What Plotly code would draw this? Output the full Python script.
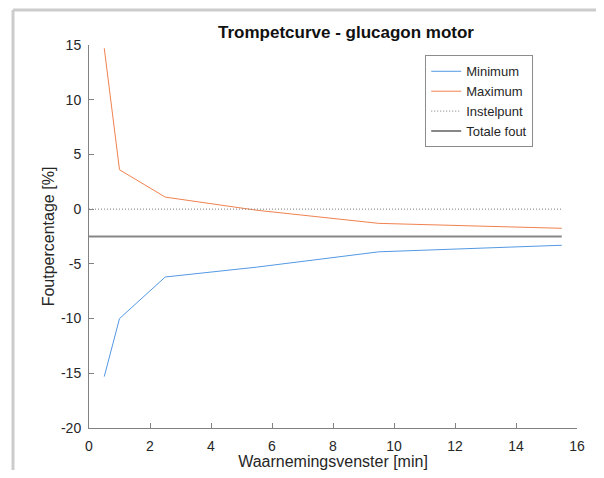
import plotly.graph_objects as go

# observation windows [min] and error percentages
window_min = [0.5, 1, 2.5, 5.5, 9.5, 15.5]
err_minimum = [-15.3, -10.0, -6.2, -5.3, -3.9, -3.3]
err_maximum = [14.7, 3.6, 1.1, -0.1, -1.3, -1.75]

ref_x = [0, 15.5]
setpoint = [0, 0]
total_error = [-2.5, -2.5]

x_ticks = [0, 2, 4, 6, 8, 10, 12, 14, 16]
y_ticks = [-20, -15, -10, -5, 0, 5, 10, 15]

_FONT = 'Liberation Sans, Arial, sans-serif'
_AX_COLOR = '#828282'
_TXT_COLOR = '#262626'
_FRAME = {'color': '#cccccc', 'width': 3}

# the page body has an 8px margin: keep the figure small enough to avoid scrollbars
_W, _H = 588, 462
_MARGIN = dict(l=81, r=19, t=37, b=42)

fig = go.Figure()
fig.add_trace(go.Scatter(
    x=window_min, y=err_minimum, mode='lines',
    line={'color': '#5499e3', 'width': 1}, name='Minimum',
))
fig.add_trace(go.Scatter(
    x=window_min, y=err_maximum, mode='lines',
    line={'color': '#f0824f', 'width': 1}, name='Maximum',
))
fig.add_trace(go.Scatter(
    x=ref_x, y=setpoint, mode='lines',
    line={'color': '#7a7a7a', 'width': 1, 'dash': '1px,2px'}, name='Instelpunt',
))
fig.add_trace(go.Scatter(
    x=ref_x, y=total_error, mode='lines',
    line={'color': '#878787', 'width': 2}, name='Totale fout',
))

axis_common = dict(
    showgrid=False, zeroline=False, showline=True,
    linecolor=_AX_COLOR, linewidth=1,
    ticks='inside', ticklen=5, tickcolor=_AX_COLOR,
    tickfont={'size': 14, 'color': _TXT_COLOR, 'family': _FONT},
    mirror=False, automargin=False,
)

fig.update_layout(
    width=_W, height=_H,
    paper_bgcolor='white', plot_bgcolor='white',
    font={'family': _FONT, 'color': _TXT_COLOR},
    margin=_MARGIN,
    title=dict(
        text='<b>Trompetcurve - glucagon motor</b>',
        x=(346 - 8) / _W, xanchor='center', y=1 - (32 - 8) / _H, yanchor='middle',
        font={'size': 17, 'color': '#111111', 'family': _FONT},
    ),
    xaxis=dict(
        axis_common, range=[0, 16], tickvals=x_ticks,
        ticktext=[str(v) for v in x_ticks], ticklabelstandoff=5,
        title=dict(text='Waarnemingsvenster [min]', font={'size': 16}, standoff=5),
    ),
    yaxis=dict(
        axis_common, range=[-20, 15], tickvals=y_ticks,
        ticktext=[str(v) for v in y_ticks], ticklabelstandoff=4,
        title=dict(text='Foutpercentage [%]', font={'size': 16}, standoff=2),
    ),
    legend=dict(
        x=0.689, y=0.973, xanchor='left', yanchor='top',
        bordercolor='#8c8c8c', borderwidth=1, bgcolor='white',
        font={'size': 13, 'color': _TXT_COLOR, 'family': _FONT},
        itemwidth=30, tracegroupgap=0,
    ),
    # light frame along the top and left edges of the picture
    shapes=[
        dict(type='line', xref='paper', yref='paper',
             x0=-0.1557, x1=1.2, y0=1.0914, y1=1.0914, line=_FRAME, layer='below'),
        dict(type='line', xref='paper', yref='paper',
             x0=-0.1557, x1=-0.1557, y0=-0.2, y1=1.0914, line=_FRAME, layer='below'),
    ],
    showlegend=True,
)

fig.write_html('out.html')
